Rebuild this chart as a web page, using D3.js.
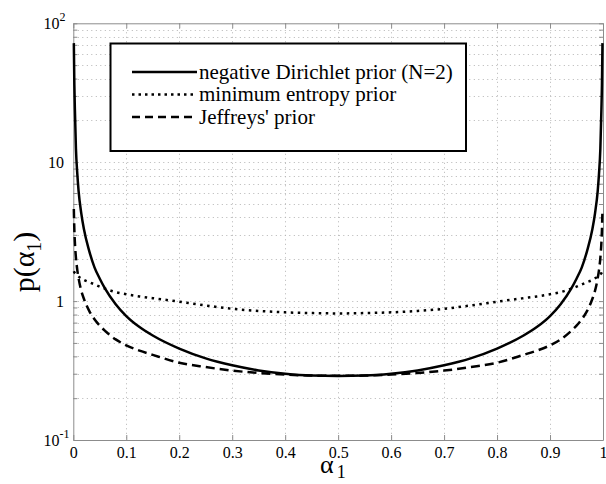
<!DOCTYPE html>
<html>
<head>
<meta charset="utf-8">
<script src="https://cdn.jsdelivr.net/npm/d3@7"></script>
<style>
  body { margin: 0; background: #fff; }
  svg { display: block; }
  svg text { font-family: 'Liberation Serif', 'Times New Roman', 'DejaVu Serif', serif; }
</style>
</head>
<body>
<svg></svg>
<script>
const alphas = [0.001, 0.002, 0.003, 0.005, 0.0075, 0.01, 0.015, 0.02, 0.03, 0.04, 0.05, 0.06, 0.08, 0.1, 0.125, 0.15,
  0.2, 0.25, 0.3, 0.35, 0.4, 0.45, 0.5, 0.55, 0.6, 0.65, 0.7, 0.75, 0.8, 0.85, 0.875, 0.9, 0.92, 0.94, 0.95, 0.96,
  0.97, 0.98, 0.985, 0.99, 0.9925, 0.995, 0.997, 0.998, 0.999];

const dirichletPrior = [72, 36, 24, 12.5, 8.3, 6.2, 4.3, 3.3, 2.3, 1.75, 1.45, 1.23, 0.95, 0.78, 0.65, 0.565,
  0.455, 0.387, 0.345, 0.317, 0.3, 0.291, 0.289, 0.291, 0.3, 0.317, 0.345, 0.387, 0.455, 0.565, 0.65, 0.78, 0.95, 1.23, 1.45, 1.75,
  2.3, 3.3, 4.3, 6.2, 8.3, 12.5, 24, 36, 72];

const entropyPrior = [1.64, 1.61, 1.59, 1.56, 1.53, 1.5, 1.46, 1.42, 1.37, 1.32, 1.27, 1.23, 1.16, 1.12, 1.08, 1.05,
  0.99, 0.93, 0.88, 0.85, 0.83, 0.82, 0.815, 0.82, 0.83, 0.85, 0.88, 0.93, 0.99, 1.05, 1.08, 1.12, 1.16, 1.23, 1.27, 1.32,
  1.37, 1.42, 1.46, 1.5, 1.53, 1.56, 1.59, 1.61, 1.64];

const jeffreysPrior = [4.6, 3.25, 2.65, 2.05, 1.68, 1.46, 1.19, 1.04, 0.85, 0.74, 0.665, 0.61, 0.53, 0.48, 0.44, 0.41,
  0.36, 0.335, 0.316, 0.304, 0.296, 0.291, 0.29, 0.291, 0.296, 0.304, 0.316, 0.335, 0.36, 0.41, 0.44, 0.48, 0.53, 0.61, 0.665, 0.74,
  0.85, 1.04, 1.19, 1.46, 1.68, 2.05, 2.65, 3.25, 4.6];

const xTicks = [0, 0.1, 0.2, 0.3, 0.4, 0.5, 0.6, 0.7, 0.8, 0.9, 1];
const xTickLabels = ['0', '0.1', '0.2', '0.3', '0.4', '0.5', '0.6', '0.7', '0.8', '0.9', '1'];
const yTicks = [0.1, 1, 10, 100];
const yTickBase = ['10', '1', '10', '10'];
const yTickExp = ['-1', '', '', '2'];
const legendLabels = ['negative Dirichlet prior (N=2)', 'minimum entropy prior', "Jeffreys' prior"];
const legendDash = [null, '2.5,4', '8,5'];

const serif = "'Liberation Serif', 'Times New Roman', 'DejaVu Serif', serif";
const svgWidth = 606;
const svgHeight = 484;
const plotLeft = 73.3, plotRight = 603, plotTop = 23.3, plotBottom = 440;

const svg = d3.select('svg')
    .attr('width', svgWidth)
    .attr('height', svgHeight)
    .attr('font-family', serif);

const xScale = d3.scaleLinear()
    .domain([0, 1])
    .range([plotLeft, plotRight]);

const yScale = d3.scaleLog()
    .domain([0.1, 100])
    .range([plotBottom, plotTop]);

// dotted grid
const grid = svg.append('g')
    .attr('stroke', '#b4b4b4')
    .attr('stroke-width', 1)
    .attr('stroke-dasharray', '1,3.5');

grid.selectAll('.vgrid')
    .data(xTicks.slice(1, -1))
    .enter()
    .append('line')
    .attr('x1', (d) => Math.round(xScale(d)) + 0.5)
    .attr('x2', (d) => Math.round(xScale(d)) + 0.5)
    .attr('y1', plotTop)
    .attr('y2', plotBottom);

grid.selectAll('.hgrid')
    .data(yScale.ticks().filter((d) => d > 0.1 && d < 100))
    .enter()
    .append('line')
    .attr('x1', plotLeft)
    .attr('x2', plotRight)
    .attr('y1', (d) => Math.round(yScale(d)) + 0.5)
    .attr('y2', (d) => Math.round(yScale(d)) + 0.5);

// axes box with inward ticks
const axisColor = '#8c8c8c';

const xAxis = svg.append('g')
    .attr('transform', `translate(0, ${plotBottom})`)
    .call(d3.axisBottom(xScale)
      .tickValues(xTicks)
      .tickFormat((d, i) => xTickLabels[i])
      .tickSizeInner(-5)
      .tickSizeOuter(0)
      .tickPadding(6.5));

xAxis.attr('font-family', serif)
    .attr('font-size', 16);

svg.append('g')
    .attr('transform', `translate(0, ${plotTop})`)
    .call(d3.axisTop(xScale).tickValues(xTicks).tickFormat('').tickSizeInner(-5).tickSizeOuter(0));

svg.append('g')
    .attr('transform', `translate(${plotLeft}, 0)`)
    .call(d3.axisLeft(yScale).tickValues(yScale.ticks()).tickFormat('').tickSizeInner(-4).tickSizeOuter(0));

svg.append('g')
    .attr('transform', `translate(${plotRight}, 0)`)
    .call(d3.axisRight(yScale).tickValues(yScale.ticks()).tickFormat('').tickSizeInner(-4).tickSizeOuter(0));

svg.selectAll('.domain, .tick line')
    .attr('stroke', axisColor);

xAxis.selectAll('text')
    .attr('fill', '#000');

// y tick labels (10^k style)
const yLabels = svg.selectAll('.ylab')
    .data(yTicks)
    .enter()
    .append('text')
    .attr('class', 'ylab')
    .attr('y', (d) => yScale(d) + 5.5)
    .attr('font-size', 16);

yLabels.each(function (d, i) {
    const t = d3.select(this);
    if (yTickExp[i]) {
      t.attr('x', 43.5).attr('text-anchor', 'start');
      t.append('tspan').text(yTickBase[i]);
      t.append('tspan')
        .attr('dy', -8)
        .attr('font-size', 12)
        .text(yTickExp[i]);
    } else {
      t.attr('x', 64).attr('text-anchor', 'end').text(yTickBase[i]);
    }
});

// curves
const series = [
    { values: dirichletPrior, dash: null },
    { values: entropyPrior, dash: '2.5,4.5' },
    { values: jeffreysPrior, dash: '9,5' }
];

const line = d3.line()
    .x((d) => xScale(d[0]))
    .y((d) => yScale(d[1]))
    .curve(d3.curveMonotoneX);

svg.selectAll('.curve')
    .data(series)
    .enter()
    .append('path')
    .attr('class', 'curve')
    .attr('d', (s) => line(alphas.map((a, i) => [a, s.values[i]])))
    .attr('fill', 'none')
    .attr('stroke', '#000')
    .attr('stroke-width', 2.5)
    .attr('stroke-dasharray', (s) => s.dash);

// legend
const legend = svg.append('g');

legend.append('rect')
    .attr('x', 110.5)
    .attr('y', 43.5)
    .attr('width', 355.5)
    .attr('height', 107.5)
    .attr('fill', '#fff')
    .attr('stroke', '#000')
    .attr('stroke-width', 2);

const rows = legend.selectAll('.row')
    .data(legendLabels)
    .enter()
    .append('g')
    .attr('transform', (d, i) => `translate(0, ${72 + i * 22.5})`);

rows.append('line')
    .attr('x1', 132)
    .attr('x2', 197)
    .attr('stroke', '#000')
    .attr('stroke-width', 2.5)
    .attr('stroke-dasharray', (d, i) => legendDash[i]);

rows.append('text')
    .attr('x', 199)
    .attr('y', 6.5)
    .attr('font-size', 21)
    .text((d) => d);

// axis titles
const xTitle = svg.append('text')
    .attr('x', 320)
    .attr('y', 473)
    .attr('font-size', 26);
xTitle.append('tspan').text('α');
xTitle.append('tspan')
    .attr('dy', 5)
    .attr('dx', 3)
    .attr('font-size', 18)
    .text('1');

const yTitle = svg.append('text')
    .attr('transform', 'translate(34, 262) rotate(-90)')
    .attr('text-anchor', 'middle')
    .attr('font-size', 30);
yTitle.append('tspan').text('p(α');
yTitle.append('tspan')
    .attr('dy', 7)
    .attr('font-size', 20)
    .text('1');
yTitle.append('tspan')
    .attr('dy', -7)
    .text(')');
</script>
</body>
</html>
